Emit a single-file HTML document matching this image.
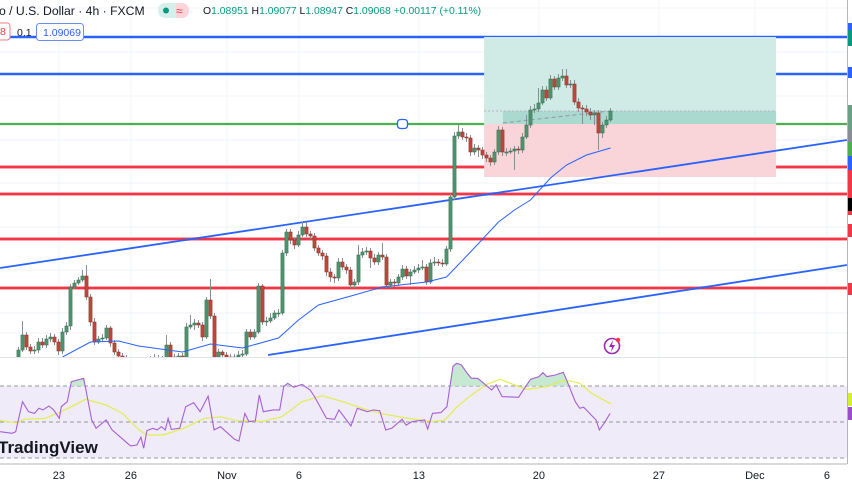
<!DOCTYPE html>
<html><head><meta charset="utf-8"><style>
html,body{margin:0;padding:0;background:#fff;width:852px;height:485px;overflow:hidden;font-family:"Liberation Sans",sans-serif;}
svg{display:block}
</style></head><body>
<svg id="chart" width="852" height="485" viewBox="0 0 852 485" xmlns="http://www.w3.org/2000/svg">
<rect x="0" y="0" width="852" height="485" fill="#fff"/>
<g id="grid"></g>
<rect x="0" y="386" width="847" height="72" fill="#efebf8"/>
<g id="levels"></g>
<g id="position"></g>
<g id="trend"></g>
<g id="candles" clip-path="url(#mainClip)"></g>
<g id="ma" clip-path="url(#mainClip)"></g>
<g id="rsi"></g>
<defs>
<clipPath id="mainClip"><rect x="0" y="0" width="847" height="357"/></clipPath>
<clipPath id="ob"><rect x="0" y="300" width="847" height="86"/></clipPath>
</defs>
<line x1="0" y1="357.5" x2="847" y2="357.5" stroke="#e0e3eb" stroke-width="1"/>
<line x1="0" y1="464" x2="847" y2="464" stroke="#b2b5be" stroke-width="1"/>
<line x1="847.5" y1="0" x2="847.5" y2="464" stroke="#b2b5be" stroke-width="1"/>
<g id="xaxis"></g>
<g id="tags"></g>
<text x="-2" y="453" font-size="17" font-weight="bold" fill="#131722" font-family="Liberation Sans, sans-serif">TradingView</text>
<g>
<circle cx="612" cy="346" r="7.5" fill="none" stroke="#9c27b0" stroke-width="1.6"/>
<path d="M613 340 L609 347 L612 347 L611 352 L615 345 L612 345 Z" fill="#9c27b0"/>
<circle cx="618" cy="340" r="2.2" fill="#f23645"/>
</g>
<!-- header -->
<text x="-1" y="15" font-size="12.2" fill="#131722">o / U.S. Dollar · 4h · FXCM</text>
<g>
<rect x="158" y="3" width="17" height="15" rx="7" fill="#d5efea"/>
<rect x="170" y="3" width="19" height="15" rx="7" fill="#fbd5da"/>
<rect x="170" y="3" width="6" height="15" fill="#d5efea"/>
<circle cx="166" cy="10.5" r="3" fill="#089981"/>
<text x="176" y="15" font-size="12" fill="#f23645">≈</text>
</g>
<text x="203" y="14" font-size="10.4" fill="#131722">O<tspan fill="#089981">1.08951</tspan> H<tspan fill="#089981">1.09077</tspan> L<tspan fill="#089981">1.08947</tspan> C<tspan fill="#089981">1.09068</tspan> <tspan fill="#089981">+0.00117 (+0.11%)</tspan></text>
<g>
<rect x="-6" y="23" width="16" height="17" rx="3" fill="#fff" stroke="#f77c80"/>
<text x="0" y="35" font-size="10.5" fill="#f23645">8</text>
<text x="17" y="36" font-size="10.5" fill="#131722">0.1</text>
<rect x="36.5" y="23.5" width="47" height="17" rx="3" fill="#fff" stroke="#6a8cf7"/>
<text x="43" y="36" font-size="10.5" fill="#2962ff">1.09069</text>
</g>
<rect x="397.5" y="119.5" width="10" height="9" rx="3" fill="#fff" stroke="#2962ff" stroke-width="1.3"/>
</svg>
<script>
const closes=[1.0650,1.0665,1.0653,1.0649,1.0650,1.0658,1.0655,1.0661,1.0663,1.0658,1.0649,1.0668,1.0674,1.0713,1.0717,1.0720,1.0724,1.0703,1.0678,1.0658,1.0661,1.0662,1.0672,1.0657,1.0648,1.0644,1.0642,1.0638,1.0634,1.0636,1.0632,1.0635,1.0638,1.0640,1.0642,1.0640,1.0640,1.0655,1.0643,1.0642,1.0644,1.0642,1.0673,1.0675,1.0677,1.0675,1.0663,1.0700,1.0684,1.0643,1.0648,1.0645,1.0643,1.0642,1.0643,1.0645,1.0646,1.0668,1.0663,1.0668,1.0714,1.0678,1.0679,1.0682,1.0687,1.0687,1.0747,1.0768,1.0760,1.0755,1.0765,1.0773,1.0766,1.0764,1.0752,1.0747,1.0744,1.0728,1.0723,1.0722,1.0738,1.0733,1.0730,1.0715,1.0718,1.0745,1.0748,1.0749,1.0742,1.0738,1.0745,1.0743,1.0715,1.0718,1.0717,1.0723,1.0731,1.0724,1.0728,1.0730,1.0732,1.0733,1.0718,1.0737,1.0738,1.0737,1.0736,1.0751,1.0803,1.0864,1.0868,1.0863,1.0862,1.0848,1.0852,1.0850,1.0845,1.0842,1.0838,1.0848,1.0870,1.0848,1.0848,1.0849,1.0851,1.0850,1.0863,1.0875,1.0890,1.0891,1.0897,1.0910,1.0902,1.0921,1.0913,1.0922,1.0924,1.0915,1.0916,1.0898,1.0892,1.0891,1.0888,1.0885,1.0887,1.0867,1.0875,1.0880,1.0889];
const highs=[1.0653,1.0679,1.0668,1.0656,1.0654,1.0662,1.0662,1.0665,1.0667,1.0666,1.0661,1.0672,1.0678,1.0716,1.0720,1.0723,1.0730,1.0735,1.0706,1.0682,1.0664,1.0666,1.0675,1.0674,1.0660,1.0651,1.0647,1.0645,1.0641,1.0639,1.0639,1.0638,1.0641,1.0644,1.0646,1.0645,1.0644,1.0665,1.0658,1.0646,1.0647,1.0647,1.0677,1.0685,1.0681,1.0680,1.0678,1.0703,1.0721,1.0687,1.0651,1.0650,1.0648,1.0646,1.0646,1.0649,1.0650,1.0671,1.0671,1.0671,1.0717,1.0716,1.0683,1.0687,1.0690,1.0691,1.0750,1.0771,1.0771,1.0763,1.0769,1.0778,1.0778,1.0769,1.0767,1.0755,1.0750,1.0747,1.0732,1.0726,1.0742,1.0742,1.0736,1.0733,1.0721,1.0755,1.0752,1.0753,1.0752,1.0746,1.0748,1.0757,1.0746,1.0721,1.0721,1.0726,1.0735,1.0734,1.0731,1.0734,1.0736,1.0740,1.0736,1.0741,1.0743,1.0741,1.0741,1.0754,1.0806,1.0868,1.0875,1.0872,1.0867,1.0865,1.0856,1.0855,1.0853,1.0848,1.0845,1.0851,1.0874,1.0873,1.0852,1.0852,1.0854,1.0854,1.0867,1.0885,1.0894,1.0896,1.0912,1.0914,1.0914,1.0925,1.0924,1.0926,1.0931,1.0931,1.0920,1.0920,1.0902,1.0895,1.0895,1.0892,1.0890,1.0890,1.0878,1.0884,1.0892];
const lows=[1.0640,1.0648,1.0650,1.0646,1.0646,1.0647,1.0652,1.0652,1.0658,1.0655,1.0645,1.0646,1.0665,1.0670,1.0711,1.0715,1.0718,1.0700,1.0674,1.0655,1.0656,1.0659,1.0660,1.0653,1.0645,1.0641,1.0638,1.0634,1.0630,1.0631,1.0628,1.0629,1.0632,1.0635,1.0637,1.0636,1.0636,1.0638,1.0639,1.0638,1.0639,1.0638,1.0640,1.0671,1.0670,1.0672,1.0659,1.0661,1.0681,1.0639,1.0640,1.0641,1.0639,1.0638,1.0639,1.0640,1.0642,1.0644,1.0660,1.0661,1.0666,1.0675,1.0674,1.0677,1.0680,1.0683,1.0685,1.0744,1.0756,1.0751,1.0753,1.0763,1.0763,1.0761,1.0749,1.0744,1.0740,1.0724,1.0718,1.0717,1.0719,1.0730,1.0726,1.0712,1.0712,1.0715,1.0742,1.0745,1.0732,1.0735,1.0735,1.0740,1.0712,1.0712,1.0713,1.0714,1.0720,1.0721,1.0715,1.0726,1.0727,1.0730,1.0715,1.0716,1.0734,1.0734,1.0733,1.0734,1.0748,1.0800,1.0861,1.0860,1.0858,1.0844,1.0845,1.0843,1.0841,1.0838,1.0834,1.0835,1.0845,1.0844,1.0844,1.0846,1.0830,1.0846,1.0847,1.0861,1.0872,1.0887,1.0888,1.0895,1.0899,1.0900,1.0910,1.0910,1.0919,1.0912,1.0912,1.0895,1.0888,1.0876,1.0884,1.0880,1.0875,1.0850,1.0862,1.0872,1.0878];
const firstOpen=1.0643;
const maIdx=[11,18,25,30,41,48,54,56,65,70,75,84,91,102,107,113,120,124,128,133,137,142,148];
const maVal=[1.0643,1.0658,1.0659,1.0654,1.0648,1.0656,1.0653,1.0652,1.0662,1.0680,1.0695,1.0705,1.0713,1.0718,1.0723,1.0748,1.0778,1.0790,1.0800,1.0822,1.0835,1.0845,1.0852];
const rsiIdx=[-4.6,-1.6,-0.7,1.0,2.5,4.0,5.1,6.1,7.6,8.8,10.2,10.7,12.2,13.2,16.3,18.3,19.4,21.9,23.4,28.0,29.6,30.6,31.3,32.1,33.6,34.7,35.7,36.7,37.4,38.2,40.3,41.8,43.8,45.4,47.4,48.9,50.5,54.0,55.1,56.6,57.6,59.2,60.2,61.2,63.7,65.3,66.3,67.3,68.8,70.9,72.9,74.0,77.0,79.0,80.1,83.1,84.7,87.2,88.7,90.3,91.8,93.3,95.9,96.9,98.4,101.5,102.3,103.5,105.6,107.1,108.6,109.5,110.7,112.2,113.2,114.8,116.3,118.3,119.4,120.9,125.0,128.0,130.1,131.1,132.1,134.2,136.2,137.2,139.2,140.3,141.3,144.4,145.2,146.4,147.9];
const rsiVal=[44.6,43.7,44.6,61.3,55.7,54.8,57.6,56.7,58.9,56.7,52.0,58.5,61.3,72.4,74.3,51.1,46.5,51.1,45.6,36.7,37.2,41.5,35.4,45.2,46.5,45.6,47.4,45.6,52.0,45.9,46.5,58.5,60.7,55.7,64.4,45.6,47.4,40.4,39.4,54.8,50.2,50.6,65.0,55.7,56.7,56.7,69.6,71.5,69.3,70.9,67.8,64.1,52.0,51.5,56.7,47.8,57.6,55.7,56.7,56.3,45.6,46.5,51.5,48.3,50.2,51.1,46.1,54.8,55.2,58.5,80.7,82.6,81.7,77.0,74.3,74.3,71.5,67.8,70.6,64.1,63.7,73.7,75.2,77.4,75.2,76.1,77.6,72.4,61.3,57.6,58.2,51.1,45.6,49.3,54.8];
const rsiMaIdx=[-4.6,-0.5,1.5,6.6,10.7,16.8,21.9,26.0,30.1,32.1,36.2,41.3,46.4,50.5,54.6,60.7,65.8,70.9,76.0,81.1,87.2,91.3,97.4,103.5,106.6,109.7,112.7,116.8,120.4,124.0,127.0,132.1,135.2,137.7,140.3,143.3,148.1];
const rsiMaVal=[50.7,49.6,51.5,52.0,55.7,62.6,59.4,54.8,45.6,42.8,42.8,46.5,52.0,52.9,50.7,50.2,52.9,61.3,64.6,61.3,56.7,54.4,52.0,50.2,51.1,58.5,64.1,70.6,73.7,70.6,68.1,69.6,72.4,72.9,71.5,65.9,60.0];
const blueLevels=[1.0963,1.0926];
const greenLevels=[1.0876];
const redLevels=[1.0833,1.0806,1.0761,1.0712];
const posEntry=1.0876, posTarget=1.0963, posStop=1.0823, posCurrent=1.0889;
const posStartIdx=116.4, posEndIdx=189.4, posNowIdx=121.1;
const trendUpper=[[-4.6,1.0732],[207.1,1.0860]];
const trendLower=[[62.4,1.0645],[207.1,1.0735]];
const tickLabels=["23","26","Nov","6","13","20","27","Dec","6"];
const tickIdx=[10.1,28.1,52.1,70.1,100.1,130.1,160.1,184.1,202.1];
const NS="http://www.w3.org/2000/svg";
function xS(i){return 18.5+4*i;}
function yP(p){return (1.1-p)*10000;}
function yR(r){return 422-(r-50)*1.8;}
function mk(tag,attrs,parent){const e=document.createElementNS(NS,tag);for(const k in attrs)e.setAttribute(k,attrs[k]);parent.appendChild(e);return e;}
const G=id=>document.getElementById(id);
const grid=G('grid');
[8,52,96,140,183,227,270,313,333,408,440].forEach(y=>{const l=mk('line',{x1:0,x2:847,y1:y,y2:y,stroke:'#f0f3fa','stroke-width':1},grid);});
tickIdx.forEach(t=>{const l=mk('line',{x1:xS(t),x2:xS(t),y1:0,y2:464,stroke:'#f0f3fa','stroke-width':1},grid);});
const pos=G('position');
const px1=xS(posStartIdx),px2=xS(posEndIdx);
let r=mk('rect',{x:px1,y:yP(posTarget),width:px2-px1,height:yP(posEntry)-yP(posTarget),fill:'#d0ebe5'},pos);

r=mk('rect',{x:px1,y:yP(posEntry),width:px2-px1,height:yP(posStop)-yP(posEntry),fill:'#f9d4d8'},pos);

r=mk('rect',{x:xS(posNowIdx),y:yP(posCurrent),width:px2-xS(posNowIdx),height:yP(posEntry)-yP(posCurrent),fill:'#a9d9cf'},pos);

r=mk('line',{x1:px1,x2:px2,y1:yP(posCurrent),y2:yP(posCurrent),stroke:'#b2b5be','stroke-dasharray':'2 2','stroke-width':1},pos);

r=mk('line',{x1:xS(posNowIdx),x2:xS(147.9),y1:yP(posEntry)-1,y2:yP(posCurrent),stroke:'#9598a1','stroke-dasharray':'4 3','stroke-width':1},pos);

const lv=G('levels');
blueLevels.forEach(p=>{const l=mk('line',{x1:0,x2:847,y1:yP(p),y2:yP(p),stroke:'#2962ff','stroke-width':2.4},lv);});
greenLevels.forEach(p=>{const l=mk('line',{x1:0,x2:847,y1:yP(p),y2:yP(p),stroke:'#4caf50','stroke-width':2.2},lv);});
redLevels.forEach(p=>{mk('line',{x1:0,x2:847,y1:yP(p),y2:yP(p),stroke:'#f9a9b0','stroke-width':4},lv);const l=mk('line',{x1:0,x2:847,y1:yP(p),y2:yP(p),stroke:'#f23645','stroke-width':2},lv);});
const tr=G('trend');
[trendUpper,trendLower].forEach((t,k)=>{const l=mk('line',{x1:xS(t[0][0]),y1:yP(t[0][1]),x2:xS(t[1][0]),y2:yP(t[1][1]),stroke:'#2962ff','stroke-width':1.8},tr);});
const cg=G('candles');
closes.forEach((c,i)=>{
 const o=i?closes[i-1]:firstOpen;const up=c>=o;const x=xS(i);
 const col=up?'#4f9470':'#c0473c';
 const w=mk('line',{x1:x,x2:x,y1:yP(highs[i]),y2:yP(lows[i]),stroke:'#8a8d96','stroke-width':1},cg);
 
 const top=yP(Math.max(o,c)),bot=yP(Math.min(o,c));
 const b=mk('rect',{x:x-1.6,y:top,width:3.2,height:Math.max(1,bot-top),fill:col,stroke:up?'#2f6f4e':'#8e2f26','stroke-width':0.5},cg);
 
});
let d=maIdx.map((t,k)=>(k?'L':'M')+xS(t).toFixed(1)+' '+yP(maVal[k]).toFixed(1)).join(' ');
let pth=mk('path',{d:d,fill:'none',stroke:'#2962ff','stroke-width':1},G('ma'));

const rg=G('rsi');
[70,50,30].forEach(v=>{const l=mk('line',{x1:0,x2:847,y1:yR(v),y2:yR(v),stroke:'#9598a1','stroke-dasharray':'4 3','stroke-width':1},rg);});
const rp=rsiIdx.map((t,k)=>[xS(t),yR(rsiVal[k])]);
let fillD='M'+rp[0][0]+' '+yR(70)+' '+rp.map(p=>'L'+p[0].toFixed(1)+' '+p[1].toFixed(1)).join(' ')+' L'+rp[rp.length-1][0]+' '+yR(70)+' Z';
pth=mk('path',{d:fillD,fill:'#b9e2c5',opacity:0.8,'clip-path':'url(#ob)'},rg);

d=rsiMaIdx.map((t,k)=>(k?'L':'M')+xS(t).toFixed(1)+' '+yR(rsiMaVal[k]).toFixed(1)).join(' ');
pth=mk('path',{d:d,fill:'none',stroke:'#e3ee4f','stroke-width':1.2},rg);

d=rp.map((p,k)=>(k?'L':'M')+p[0].toFixed(1)+' '+p[1].toFixed(1)).join(' ');
pth=mk('path',{d:d,fill:'none',stroke:'#a65fd4','stroke-width':1.1},rg);

const xa=G('xaxis');
tickLabels.forEach((t,k)=>{const e=mk('text',{x:xS(tickIdx[k]),y:479,'font-size':11,'text-anchor':'middle',fill:'#131722'},xa);e.textContent=t;});
const tg=G('tags');
[[23,30,'#2962ff'],[30,46,'#089981'],[67,78,'#2962ff'],[105,130,'#6aa086'],[130,142,'#8a8d96'],[142,156,'#4caf50'],[156,170,'#2962ff'],[170,198,'#f23645'],[198,211,'#000'],[211,215,'#f23645'],[224,237,'#f23645'],[283,295,'#f23645'],[393,406,'#d4ef2b'],[407,420,'#9c4dcc']].forEach(a=>{const e=mk('rect',{x:848,y:a[0],width:4,height:a[1]-a[0],fill:a[2]},tg);});
</script>
</body></html>
